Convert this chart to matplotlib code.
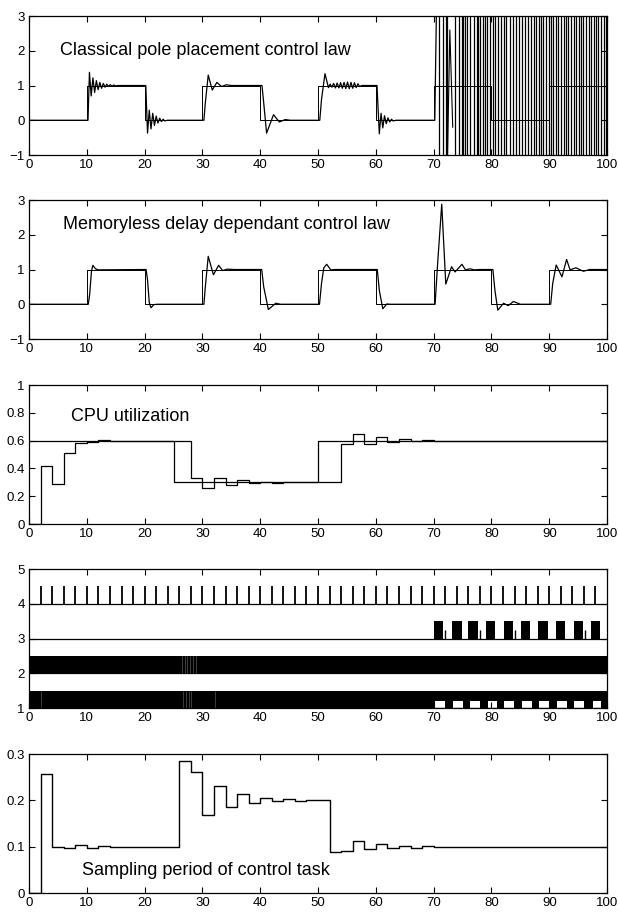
import matplotlib
matplotlib.use("Agg")
import matplotlib.pyplot as plt

plt.rcParams["font.family"] = ["Liberation Sans", "DejaVu Sans"]

x_ticks = [0, 10, 20, 30, 40, 50, 60, 70, 80, 90, 100]

# reference square wave (panels 1 and 2)
ref_t = [0, 10, 20, 30, 40, 50, 60, 70, 80, 90, 100]
ref_v = [0, 1, 0, 1, 0, 1, 0, 1, 0, 1, 1]

# panel 1: classical pole placement output
p1_t = [0, 10.2, 10.45, 10.75, 11.05, 11.35, 11.65, 11.95, 12.25, 12.55, 12.85,
        13.15, 13.45, 13.75, 14.05, 14.35, 14.65, 14.95, 15.5, 20.2,
        20.5, 20.8, 21.1, 21.4, 21.7, 22.0, 22.3, 22.6, 22.9, 23.2, 23.5, 23.9, 30.25,
        30.5, 31.0, 31.7, 32.5, 33.3, 34.1, 35.0, 40.3,
        40.6, 41.1, 42.3, 43.3, 44.3, 45.2, 50.3,
        50.6, 51.2, 51.8, 52.1, 52.4, 52.7, 53.0, 53.3, 53.6, 53.9, 54.2, 54.5,
        54.8, 55.1, 55.4, 55.7, 56.0, 56.3, 56.6, 56.9, 57.2, 57.6, 60.2,
        60.4, 60.6, 60.9, 61.2, 61.5, 61.8, 62.1, 62.4, 62.7, 63.0, 63.5, 70.2,
        70.6]
p1_y = [0, 0, 1.38, 0.70, 1.22, 0.80, 1.14, 0.88, 1.09, 0.92, 1.06,
        0.95, 1.04, 0.97, 1.025, 0.98, 1.015, 0.99, 1.0, 1.0,
        -0.37, 0.29, -0.25, 0.20, -0.15, 0.12, -0.08, 0.06, -0.04, 0.03, -0.02, 0.0, 0.0,
        0.5, 1.30, 0.87, 1.09, 0.97, 1.02, 1.0, 1.0,
        0.5, -0.37, 0.16, -0.05, 0.02, 0.0, 0.0,
        0.6, 1.34, 0.94, 1.04, 0.95, 1.06, 0.93, 1.07, 0.93, 1.08, 0.92, 1.09,
        0.91, 1.10, 0.91, 1.09, 0.92, 1.08, 0.94, 1.05, 0.97, 1.0, 1.0,
        0.3, -0.39, 0.20, -0.22, 0.13, -0.10, 0.07, -0.05, 0.03, -0.02, 0.0, 0.0,
        4.5]
p1_spike_t = [72.35, 72.8, 73.3]
p1_spike_y = [-1.5, 2.6, -0.2]
# times where the unstable output swings across the whole range
p1_flips = [70.9, 71.7, 72.1, 72.3, 73.7, 74.3, 74.9, 75.1, 75.4, 75.8, 76.3, 76.9,
            77.5, 77.7, 78.0, 78.5, 78.8, 79.2, 79.8, 80.2, 80.7, 81.2, 81.6, 82.1,
            82.6, 83.2, 83.8, 84.3, 84.8, 85.2, 85.8, 86.4, 86.9, 87.3, 87.7, 88.2,
            88.6, 89.0, 89.4, 89.9, 90.3, 90.7, 91.1, 91.6, 92.1, 92.5, 92.9, 93.3,
            93.8, 94.2, 94.6, 95.1, 95.5, 95.9, 96.4, 96.8, 97.3, 97.7, 98.1, 98.5,
            99.0, 99.4, 99.8]

# panel 2: memoryless delay dependant output
p2_t = [0, 10.25, 10.5, 10.8, 11.05, 11.5, 12.0, 20.25,
        20.5, 20.8, 21.1, 21.6, 22.2, 30.25,
        30.5, 31.0, 31.9, 32.8, 33.5, 34.3, 35.5, 40.25,
        40.6, 41.4, 42.7, 43.5, 50.25,
        50.6, 51.0, 51.5, 52.2, 53.0, 60.25,
        60.6, 61.2, 61.9, 62.5, 70.25,
        70.7, 71.4, 72.1, 73.1, 73.7, 74.9, 75.5, 76.3, 77.0, 78.0, 80.25,
        80.6, 81.1, 82.1, 82.9, 83.8, 85.0, 90.25,
        90.6, 91.2, 92.2, 93.0, 93.6, 94.6, 95.9, 97.0, 100]
p2_y = [0, 0, 0.3, 0.95, 1.12, 1.02, 0.99, 1.0,
        0.7, 0.05, -0.10, -0.01, 0.0, 0.0,
        0.5, 1.38, 0.85, 1.12, 0.97, 1.01, 1.0, 1.0,
        0.5, -0.15, 0.03, 0.0, 0.0,
        0.6, 1.05, 1.15, 0.99, 1.0, 1.0,
        0.4, -0.13, 0.01, 0.0, 0.0,
        1.2, 2.88, 0.58, 1.08, 0.93, 1.15, 0.99, 1.02, 0.99, 1.0, 1.0,
        0.4, -0.17, 0.03, -0.04, 0.08, 0.0, 0.0,
        0.6, 1.13, 0.79, 1.29, 0.99, 1.05, 0.95, 1.0, 1.0]

# panel 3: CPU utilization
util_ref_t = [0, 25, 50, 100]
util_ref_v = [0.6, 0.3, 0.6, 0.6]
util_t = [0, 2, 4, 6, 8, 10, 12, 14, 16, 28, 30, 32, 34, 36, 38, 40, 42, 44,
          54, 56, 58, 60, 62, 64, 66, 68, 70, 72, 100]
util_v = [0, 0.42, 0.29, 0.51, 0.585, 0.59, 0.605, 0.598, 0.6, 0.33, 0.26, 0.33,
          0.28, 0.315, 0.295, 0.305, 0.298, 0.3, 0.575, 0.645, 0.575, 0.625, 0.59,
          0.61, 0.595, 0.605, 0.598, 0.6, 0.6]
util_ticks = [0, 0.2, 0.4, 0.6, 0.8, 1]
util_labels = ["0", "0.2", "0.4", "0.6", "0.8", "1"]

# panel 4: schedule
sched_levels = [1, 2, 3, 4]
ctrl_release = [2, 4, 6, 8, 10, 12, 14, 16, 18, 20, 22, 24, 26, 28, 30, 32, 34, 36,
                38, 40, 42, 44, 46, 48, 50, 52, 54, 56, 58, 60, 62, 64, 66, 68, 70,
                72, 74, 76, 78, 80, 82, 84, 86, 88, 90, 92, 94, 96, 98]
row3_start = [70.0, 73.1, 76.0, 79.1, 82.1, 85.1, 88.1, 91.2, 94.2, 97.2]
row3_end = [71.7, 74.9, 77.6, 80.7, 83.8, 86.7, 89.7, 92.7, 95.8, 98.8]
row3_spikes = [72.0, 78.0, 84.0, 96.1]
row1_hole_start = [70.2, 73.4, 76.3, 79.4, 82.2, 85.3, 88.3, 91.4, 94.3, 97.5]
row1_hole_end = [72.0, 75.0, 78.0, 80.9, 83.9, 87.0, 90.0, 93.0, 96.0, 99.0]
row2_gaps = [26.4, 26.9, 27.3, 27.8, 28.4, 28.9]
row1_gaps = [2.1, 26.7, 27.2, 27.6, 28.0, 32.2]

# panel 5: sampling period
per_t = [0, 2, 4, 6, 8, 10, 12, 14, 16, 26, 28, 30, 32, 34, 36, 38, 40, 42, 44,
         46, 48, 50, 52, 54, 56, 58, 60, 62, 64, 66, 68, 70, 72, 100]
per_v = [0, 0.258, 0.1, 0.097, 0.103, 0.098, 0.101, 0.099, 0.1, 0.285, 0.261,
         0.168, 0.231, 0.185, 0.213, 0.195, 0.206, 0.198, 0.203, 0.199, 0.201,
         0.2, 0.088, 0.091, 0.112, 0.096, 0.105, 0.097, 0.102, 0.098, 0.1005,
         0.0995, 0.1, 0.1]
per_ticks = [0, 0.1, 0.2, 0.3]
per_labels = ["0", "0.1", "0.2", "0.3"]


def style(ax, ylim, yticks, ylabels=None):
    ax.set_xlim(0, 100)
    ax.set_ylim(*ylim)
    ax.set_xticks(x_ticks)
    ax.set_yticks(yticks)
    if ylabels is not None:
        ax.set_yticklabels(ylabels)
    ax.tick_params(direction="in", top=True, right=True, length=4, width=0.8,
                   labelsize=9.5, pad=3)
    for s in ax.spines.values():
        s.set_linewidth(0.9)


def main():
    fig = plt.figure(figsize=(6.19, 9.15), dpi=100)
    left, width, height = 0.0469, 0.9338, 0.1519
    bottoms = [0.8306, 0.6295, 0.4273, 0.2262, 0.0240]
    axs = [fig.add_axes([left, b, width, height]) for b in bottoms]

    # 1
    ax = axs[0]
    ax.step(ref_t, ref_v, where="post", color="k", lw=0.7)
    ax.plot(p1_t, p1_y, color="k", lw=0.9)
    ax.plot(p1_spike_t, p1_spike_y, color="k", lw=0.8)
    ax.vlines(p1_flips, -2, 4, colors="k", lw=0.9)
    style(ax, (-1, 3), [-1, 0, 1, 2, 3])
    ax.text(5.4, 2.0, "Classical pole placement control law", fontsize=13, va="center")

    # 2
    ax = axs[1]
    ax.step(ref_t, ref_v, where="post", color="k", lw=0.7)
    ax.plot(p2_t, p2_y, color="k", lw=0.9)
    style(ax, (-1, 3), [-1, 0, 1, 2, 3])
    ax.text(5.9, 2.29, "Memoryless delay dependant control law", fontsize=13, va="center")

    # 3
    ax = axs[2]
    ax.step(util_ref_t, util_ref_v, where="post", color="k", lw=0.9)
    ax.step(util_t, util_v, where="post", color="k", lw=0.9)
    style(ax, (0, 1), util_ticks, util_labels)
    ax.text(7.2, 0.77, "CPU utilization", fontsize=13, va="center")

    # 4
    ax = axs[3]
    ax.hlines(sched_levels, 0, 100, colors="k", lw=0.9)
    ax.vlines(ctrl_release, 4, 4.5, colors="k", lw=1.3)
    ax.broken_barh([(0, 100)], (2, 0.5), facecolors="k")
    ax.broken_barh([(0, 100)], (1, 0.5), facecolors="k")
    ax.broken_barh([(s, e - s) for s, e in zip(row3_start, row3_end)], (3, 0.5),
                   facecolors="k")
    ax.vlines(row3_spikes, 3, 3.25, colors="k", lw=1.0)
    ax.broken_barh([(s, e - s) for s, e in zip(row1_hole_start, row1_hole_end)],
                   (1.0, 0.2), facecolors="w")
    ax.vlines(row2_gaps, 2, 2.5, colors="w", lw=0.5, alpha=0.35)
    ax.vlines(row1_gaps, 1, 1.5, colors="w", lw=0.5, alpha=0.35)
    style(ax, (1, 5), [1, 2, 3, 4, 5])

    # 5
    ax = axs[4]
    ax.step(per_t, per_v, where="post", color="k", lw=1.0)
    style(ax, (0, 0.3), per_ticks, per_labels)
    ax.text(9.1, 0.048, "Sampling period of control task", fontsize=13, va="center")

    fig.savefig("out.png", dpi=100)
    plt.close(fig)


if __name__ == "__main__":
    main()
